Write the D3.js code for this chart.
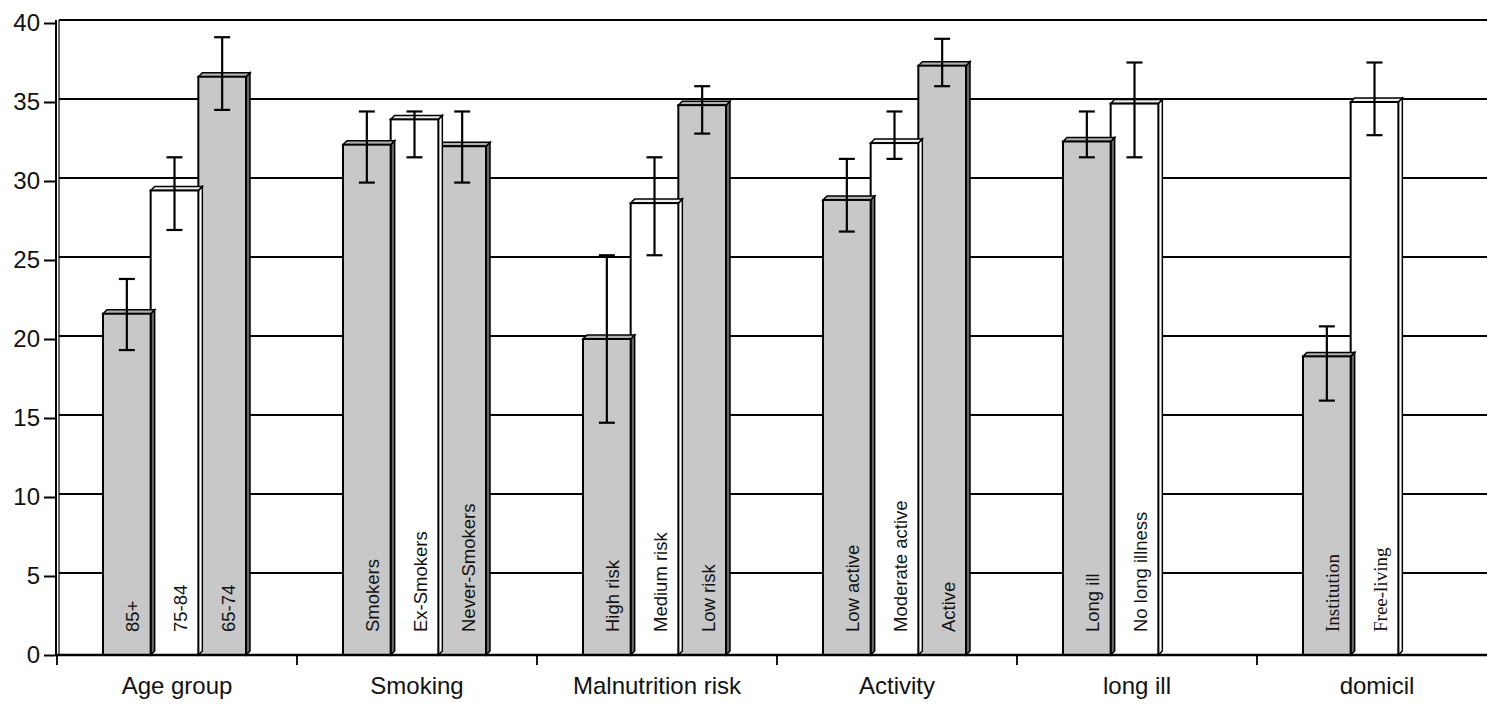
<!DOCTYPE html>
<html>
<head>
<meta charset="utf-8">
<script src="https://cdn.jsdelivr.net/npm/d3@7"></script>
<style>
  body { margin: 0; background: #fff; }
  svg { display: block; font-family: "Liberation Sans", Arial, sans-serif; }
</style>
</head>
<body>
<div id="chart"></div>
<script>
// Group names shown under the x axis.
var categories = ["Age group", "Smoking", "Malnutrition risk", "Activity", "long ill", "domicil"];

// Labels written inside each bar.
var barLabels = [
    ["85+", "75-84", "65-74"],
    ["Smokers", "Ex-Smokers", "Never-Smokers"],
    ["High risk", "Medium risk", "Low risk"],
    ["Low active", "Moderate active", "Active"],
    ["Long ill", "No long illness"],
    ["Institution", "Free-living"]
];

// Bar heights.
var barValues = [
    [21.6, 29.4, 36.6],
    [32.3, 33.9, 32.2],
    [20.0, 28.6, 34.8],
    [28.8, 32.4, 37.3],
    [32.5, 34.9],
    [18.9, 35.0]
];

// Error bar lower and upper ends.
var errLow = [
    [19.3, 26.9, 34.5],
    [29.9, 31.5, 29.9],
    [14.7, 25.3, 33.0],
    [26.8, 31.4, 36.0],
    [31.5, 31.5],
    [16.1, 32.9]
];
var errHigh = [
    [23.8, 31.5, 39.1],
    [34.4, 34.4, 34.4],
    [25.3, 31.5, 36.0],
    [31.4, 34.4, 39.0],
    [34.4, 37.5],
    [20.8, 37.5]
];

var yTicks = [0, 5, 10, 15, 20, 25, 30, 35, 40];

var width = 1487, height = 704;
var plotLeft = 57, plotBottom = 655, plotTop = 23;
var depth = 4;
var grey = "#c8c8c8", greySide = "#666", greyTop = "#b0b0b0";

var svg = d3.select("#chart").append("svg")
    .attr("width", width)
    .attr("height", height);

var y = d3.scaleLinear().domain([0, 40]).range([plotBottom, plotTop]);

var x = d3.scaleBand().domain(categories).range([plotLeft, plotLeft + 240 * categories.length])
    .paddingInner(0).paddingOuter(0);

// three slots per group, the 2-bar groups just leave the last one empty
var slot = d3.scaleBand().domain([0, 1, 2]).range([46, 46 + 143]).padding(0);

//Gridlines on the back wall.
svg.append("g").selectAll("line")
    .data(yTicks.filter(function(d) { return d > 0; }))
    .enter().append("line")
    .attr("x1", plotLeft + 2).attr("x2", width)
    .attr("y1", function(d) { return Math.round(y(d)) - 3; })
    .attr("y2", function(d) { return Math.round(y(d)) - 3; })
    .attr("stroke", "#000").attr("stroke-width", 2);

//Left axis with the wall edge.
var yAxis = svg.append("g")
    .attr("transform", "translate(" + (plotLeft - 2) + ",0)")
    .call(d3.axisLeft(y).tickValues(yTicks).tickSize(11).tickPadding(4));
yAxis.select(".domain").remove();
yAxis.selectAll(".tick line").attr("stroke", "#000").attr("stroke-width", 2);
yAxis.selectAll(".tick text").attr("font-size", 24).attr("fill", "#111")
    .attr("font-family", "'Liberation Sans', Arial, sans-serif");

svg.append("line").attr("x1", plotLeft - 1).attr("x2", plotLeft - 1)
    .attr("y1", plotTop - 3).attr("y2", plotBottom).attr("stroke", "#000").attr("stroke-width", 2);
svg.append("line").attr("x1", plotLeft + 2).attr("x2", plotLeft + 2)
    .attr("y1", plotTop - 3).attr("y2", plotBottom).attr("stroke", "#000").attr("stroke-width", 1.2);

//Bars, one group per category.
var groups = svg.append("g").selectAll("g")
    .data(categories)
    .enter().append("g")
    .attr("transform", function(d) { return "translate(" + x(d) + ",0)"; });

groups.each(function(cat, gi) {
    var g = d3.select(this);
    var vals = barValues[gi];
    var bw = slot.bandwidth();

    // draw back to front so the left bar covers the next bar's side
    for (var i = vals.length - 1; i >= 0; i--) {
        var x0 = slot(i), v = vals[i];
        var isGrey = (i % 2 === 0);
        var fill = isGrey ? grey : "#fff";

        // side face
        g.append("path")
            .attr("d", "M" + (x0 + bw) + "," + y(v) + " L" + (x0 + bw + depth) + "," + (y(v) - depth) +
                " L" + (x0 + bw + depth) + "," + (plotBottom - depth) + " L" + (x0 + bw) + "," + plotBottom + " Z")
            .attr("fill", isGrey ? greySide : "#fff")
            .attr("stroke", "#000").attr("stroke-width", 1.5);

        // top face
        g.append("path")
            .attr("d", "M" + x0 + "," + y(v) + " L" + (x0 + depth) + "," + (y(v) - depth) +
                " L" + (x0 + bw + depth) + "," + (y(v) - depth) + " L" + (x0 + bw) + "," + y(v) + " Z")
            .attr("fill", isGrey ? greyTop : "#eee")
            .attr("stroke", "#000").attr("stroke-width", 1.5);

        // front face
        g.append("rect")
            .attr("x", x0).attr("y", y(v))
            .attr("width", bw).attr("height", plotBottom - y(v))
            .attr("fill", fill)
            .attr("stroke", "#000").attr("stroke-width", 2);
    }

    // labels inside the bars
    vals.forEach(function(v, i) {
        var cx = slot(i) + bw / 2 + 6;
        g.append("text")
            .attr("transform", "translate(" + cx + "," + 632 + ") rotate(-90)")
            .attr("dominant-baseline", "central")
            .attr("font-size", gi === 5 ? 19 : 18.5)
            .attr("font-family", gi === 5 ? "'Liberation Serif', 'Times New Roman', serif" : null)
            .attr("fill", "#111")
            .text(barLabels[gi][i]);
    });

    // error bars
    vals.forEach(function(v, i) {
        var cx = slot(i) + bw / 2;
        var lo = y(errLow[gi][i]), hi = y(errHigh[gi][i]);
        g.append("line").attr("x1", cx).attr("x2", cx).attr("y1", lo).attr("y2", hi)
            .attr("stroke", "#000").attr("stroke-width", 2.2);
        [lo, hi].forEach(function(yy) {
            g.append("line").attr("x1", cx - 8).attr("x2", cx + 8).attr("y1", yy).attr("y2", yy)
                .attr("stroke", "#000").attr("stroke-width", 2.2);
        });
    });
});

//Floor line and category axis.
svg.append("line").attr("x1", plotLeft - 2).attr("x2", width)
    .attr("y1", plotBottom).attr("y2", plotBottom)
    .attr("stroke", "#000").attr("stroke-width", 2.6);

var xAxis = svg.append("g")
    .attr("transform", "translate(0," + plotBottom + ")")
    .call(d3.axisBottom(x).tickSize(0).tickPadding(22));
xAxis.select(".domain").remove();
xAxis.selectAll(".tick text").attr("font-size", 24).attr("fill", "#111")
    .attr("font-family", "'Liberation Sans', Arial, sans-serif");

svg.append("g").selectAll("line")
    .data(categories)
    .enter().append("line")
    .attr("x1", function(d) { return x(d); })
    .attr("x2", function(d) { return x(d); })
    .attr("y1", plotBottom).attr("y2", plotBottom + 10)
    .attr("stroke", "#000").attr("stroke-width", 1.8);
</script>
</body>
</html>
